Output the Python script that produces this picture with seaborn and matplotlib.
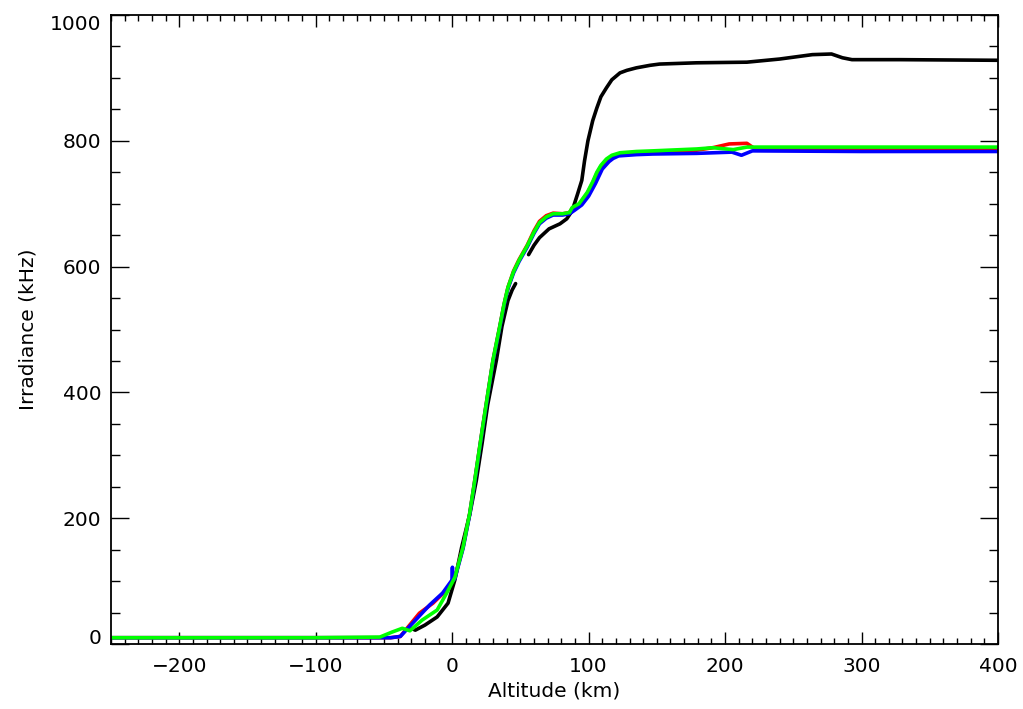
import matplotlib
matplotlib.use("Agg")
import matplotlib.pyplot as plt
import matplotlib.transforms as mtransforms
from matplotlib.ticker import MultipleLocator
import pandas as pd
import seaborn as sns

sns.set_style("ticks")
plt.rcParams["font.family"] = ["DejaVu Sans"]
plt.rcParams["text.color"] = "black"
plt.rcParams["axes.labelcolor"] = "black"
plt.rcParams["xtick.color"] = "black"
plt.rcParams["ytick.color"] = "black"

# ---------- data ----------
black_a_x = [-30, -27, -20, -11, -3, 2, 7, 13, 17.7, 22, 26, 32.4, 36.5, 40.9, 44, 46.5]
black_a_y = [25, 22, 30, 43, 65, 102, 154, 207, 260, 320, 380, 451, 505, 546, 563, 573]
black_b_x = [56, 60, 64, 71, 79, 84, 88, 92, 95, 97, 99.5, 103, 106, 109, 113, 117, 123,
             128, 135, 145, 152, 179, 216, 240, 264, 278, 286, 293, 328, 400]
black_b_y = [619, 634, 646, 660, 668, 676, 689, 716, 737, 768, 800, 832, 852, 870, 884, 897, 908,
             912, 916, 920, 922, 924, 925, 930, 937, 938, 932, 929, 929, 928]

green_x = [-250, -100, -53, -44, -36.5, -31, -22, -11, -4, 2, 8, 12.8, 16, 22, 29.9,
           34.8, 38, 40.9, 45, 49, 55, 60, 64, 69, 74, 81, 86, 88, 93, 99, 103, 106, 109,
           113, 117, 123, 135, 147, 179, 191, 206, 216, 300, 400]
green_y = [10, 10, 11, 19, 25, 21, 38, 54, 81, 106, 154, 207, 252, 340, 451,
           504, 540, 567, 592, 610, 633, 655, 670, 679, 684, 684, 686, 694, 700, 718, 735, 750, 761,
           771, 777, 781, 783, 784, 787, 789, 786, 790, 790, 790]

red_x = [-250, -100, -45, -38, -24, -14, -4, 2, 8, 12.8, 16, 22, 29.9,
         34.8, 38, 40.9, 45, 49, 55, 60, 64, 69, 74, 81, 86, 88, 93, 99, 103, 106, 109,
         113, 117, 123, 135, 147, 179, 191, 203, 216, 222, 300, 400]
red_y = [10, 10, 10, 12, 49, 65, 86, 106, 154, 207, 252, 340, 451,
         504, 540, 567, 593, 611, 634, 657, 672, 681, 685, 684, 686, 693, 699, 716, 733, 748, 759,
         769, 775, 779, 781, 782, 785, 789, 795, 796, 787, 787, 787]

blue_x = [-250, -100, -45, -38, -29, -16.5, -7, 0, 0.2, 0.4, 2, 8, 12.8, 16, 22, 29.9,
          34.8, 38, 40.9, 45, 49, 55, 60, 64, 69, 74, 81, 86, 90, 95, 100, 105, 110, 115,
          118, 122, 135, 147, 179, 205, 212, 220, 300, 400]
blue_y = [10, 10, 10, 12, 33, 62, 81, 102, 122, 100, 104, 152, 205, 250, 338, 449,
          502, 538, 565, 590, 608, 631, 653, 668, 677, 682, 682, 684, 690, 698, 712, 732, 755, 767,
          772, 776, 778, 779, 780, 782, 777, 784, 783, 783]

series = [
    ("black", black_a_x, black_a_y),
    ("black", black_b_x, black_b_y),
    ("#ff0000", red_x, red_y),
    ("#0000ff", blue_x, blue_y),
    ("#00ff00", green_x, green_y),
]

fig = plt.figure(figsize=(10.23, 7.09), dpi=100)
ax = fig.add_axes([111 / 1023, 1 - 644 / 709, 887 / 1023, 629 / 709])

for color, xs, ys in series:
    df = pd.DataFrame({"alt": xs, "irr": ys})
    sns.lineplot(data=df, x="alt", y="irr", color=color, lw=2.6, sort=False,
                 estimator=None, ax=ax, solid_joinstyle="round")

ax.set_xlim(-250, 400)
ax.set_ylim(0, 1000)
ax.xaxis.set_major_locator(MultipleLocator(100))
ax.xaxis.set_minor_locator(MultipleLocator(10))
ax.yaxis.set_major_locator(MultipleLocator(200))
ax.yaxis.set_minor_locator(MultipleLocator(50))

ax.tick_params(axis="both", which="both", direction="in", top=True, right=True,
               color="black", labelcolor="black", width=1, labelsize=14.5)
ax.tick_params(axis="x", which="major", length=8.5, pad=9)
ax.tick_params(axis="x", which="minor", length=4)
ax.tick_params(axis="y", which="major", length=13, pad=7)
ax.tick_params(axis="y", which="minor", length=6.5)
for s in ax.spines.values():
    s.set_linewidth(1.3)
    s.set_color("black")

ax.set_xlabel("Altitude (km)", fontsize=14.5, labelpad=4, color="black")
ax.set_ylabel("Irradiance (kHz)", fontsize=14.5, labelpad=9, color="black")

# IDL nudges the end labels inward
fig.canvas.draw()
for lab in ax.get_yticklabels():
    txt = lab.get_text()
    if txt == "0":
        lab.set_transform(lab.get_transform() + mtransforms.ScaledTranslation(0, 7 / 100, fig.dpi_scale_trans))
    elif txt == "1000":
        lab.set_transform(lab.get_transform() + mtransforms.ScaledTranslation(0, -8 / 100, fig.dpi_scale_trans))

fig.savefig("out.png", dpi=100, facecolor="white")
